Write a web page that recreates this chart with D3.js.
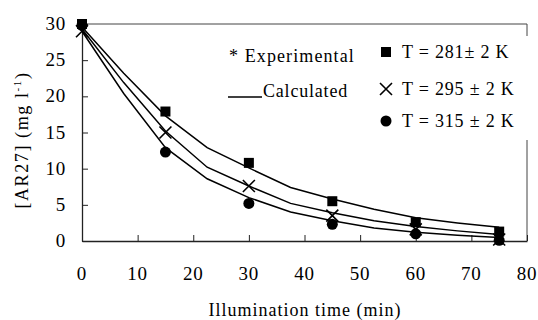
<!DOCTYPE html>
<html>
<head>
<meta charset="utf-8">
<script src="https://cdn.jsdelivr.net/npm/d3@7"></script>
<style>
  body { margin: 0; background: #fff; }
  svg { display: block; font-family: "Liberation Serif", "Times New Roman", serif; }
</style>
</head>
<body>
<svg id="chart" width="538" height="320"></svg>
<script>
// measured points (min, mg/l)
var timesExp = [0, 15, 30, 45, 60, 75];
var exp281 = [30, 17.9, 10.8, 5.5, 2.6, 1.3];
var exp295 = [29, 15.0, 7.6, 3.5, 1.6, 0.2];
var exp315 = [29.8, 12.3, 5.2, 2.3, 1.0, 0.1];

// calculated curves, read every 7.5 min
var timesCalc = [0, 7.5, 15, 22.5, 30, 37.5, 45, 52.5, 60, 67.5, 75];
var calc281 = [29.6, 23.2, 17.3, 12.9, 10.1, 7.4, 5.8, 4.4, 3.2, 2.5, 1.9];
var calc295 = [29.3, 21.9, 15.2, 10.2, 7.6, 5.2, 3.9, 2.8, 2.0, 1.4, 0.9];
var calc315 = [29.0, 20.4, 12.9, 8.6, 6.0, 4.0, 2.8, 1.8, 1.2, 0.8, 0.5];

var xTicks = [0, 10, 20, 30, 40, 50, 60, 70, 80];
var yTicks = [0, 5, 10, 15, 20, 25, 30];
var legendLabels = ["T = 281\u00b1 2 K", "T = 295 \u00b1 2 K", "T = 315 \u00b1 2 K"];

var svg = d3.select("#chart");
var plotL = 82, plotR = 527, plotT = 24, plotB = 241;

var x = d3.scaleLinear().domain([0, 80]).range([plotL, plotR]);
var y = d3.scaleLinear().domain([0, 30]).range([plotB, plotT]);

// frame: top and right borders
svg.append("line").attr("x1", plotL).attr("x2", plotR).attr("y1", plotT).attr("y2", plotT)
    .attr("stroke", "#444").attr("stroke-width", 1);
svg.append("line").attr("x1", plotR).attr("x2", plotR).attr("y1", plotT).attr("y2", plotB)
    .attr("stroke", "#444").attr("stroke-width", 1);

// axes, ticks pointing inward
var xAxis = svg.append("g").attr("transform", "translate(0," + plotB + ")")
    .call(d3.axisBottom(x).tickValues(xTicks).tickSize(-6).tickSizeOuter(0).tickFormat(""));
var yAxis = svg.append("g").attr("transform", "translate(" + plotL + ",0)")
    .call(d3.axisLeft(y).tickValues(yTicks).tickSize(-6).tickSizeOuter(0).tickFormat(""));
[xAxis, yAxis].forEach(function(g) {
    g.select(".domain").attr("stroke", "#222").attr("stroke-width", 1.3);
    g.selectAll(".tick line").attr("stroke", "#222");
});

// tick labels
svg.selectAll(".xlab").data(xTicks).enter().append("text")
    .attr("x", function(d) { return x(d); }).attr("y", 280)
    .attr("text-anchor", "middle").style("font-size", "19px").style("letter-spacing", "0.8px")
    .text(function(d) { return d; });
svg.selectAll(".ylab").data(yTicks).enter().append("text")
    .attr("x", 66).attr("y", function(d) { return y(d) + 6; })
    .attr("text-anchor", "end").style("font-size", "19px").style("letter-spacing", "0.8px")
    .text(function(d) { return d; });

// axis titles
svg.append("text").attr("x", 305).attr("y", 316).attr("text-anchor", "middle")
    .style("font-size", "18px").style("letter-spacing", "1px").text("Illumination time (min)");
var yt = svg.append("text").attr("transform", "translate(28,140) rotate(-90)")
    .attr("text-anchor", "middle").style("font-size", "18px").style("letter-spacing", "1.6px");
yt.append("tspan").text("[AR27] (mg l");
yt.append("tspan").attr("dy", -7).style("font-size", "11px").text("-1");
yt.append("tspan").attr("dy", 7).text(")");

// calculated curves
var line = d3.line().x(function(d) { return x(d[0]); }).y(function(d) { return y(d[1]); });
[calc281, calc295, calc315].forEach(function(vals) {
    svg.append("path").datum(d3.zip(timesCalc, vals)).attr("d", line)
        .attr("fill", "none").attr("stroke", "#000").attr("stroke-width", 1.5);
});

// markers
function square(g, cx, cy) {
    g.append("rect").attr("x", cx - 5).attr("y", cy - 5).attr("width", 10).attr("height", 10).attr("fill", "#000");
}
function cross(g, cx, cy) {
    g.append("path").attr("d", "M" + (cx - 6) + "," + (cy - 6) + "L" + (cx + 6) + "," + (cy + 6) +
        "M" + (cx - 6) + "," + (cy + 6) + "L" + (cx + 6) + "," + (cy - 6))
        .attr("stroke", "#000").attr("stroke-width", 1.6);
}
function dot(g, cx, cy) {
    g.append("circle").attr("cx", cx).attr("cy", cy).attr("r", 5.5).attr("fill", "#000");
}
var marks = svg.append("g");
timesExp.forEach(function(t, i) { dot(marks, x(t), y(exp315[i])); });
timesExp.forEach(function(t, i) { cross(marks, x(t), y(exp295[i])); });
timesExp.forEach(function(t, i) { square(marks, x(t), y(exp281[i])); });

// legend background hides part of right border
svg.append("rect").attr("x", 370).attr("y", 36).attr("width", 162).attr("height", 104).attr("fill", "#fff");

svg.append("text").attr("x", 229).attr("y", 62).style("font-size", "18px").style("letter-spacing", "1.1px")
    .text("* Experimental");
svg.append("line").attr("x1", 228).attr("x2", 262).attr("y1", 97).attr("y2", 97)
    .attr("stroke", "#000").attr("stroke-width", 1.5);
svg.append("text").attr("x", 263).attr("y", 97).style("font-size", "18px").style("letter-spacing", "0.8px")
    .text("Calculated");

var legY = [52, 89, 121];
square(svg, 386, legY[0]);
cross(svg, 386, legY[1]);
dot(svg, 386, legY[2]);
svg.selectAll(".leg").data(legendLabels).enter().append("text")
    .attr("x", 402).attr("y", function(d, i) { return legY[i] + 6; })
    .style("font-size", "18px").style("letter-spacing", "0.8px").text(function(d) { return d; });
</script>
</body>
</html>
